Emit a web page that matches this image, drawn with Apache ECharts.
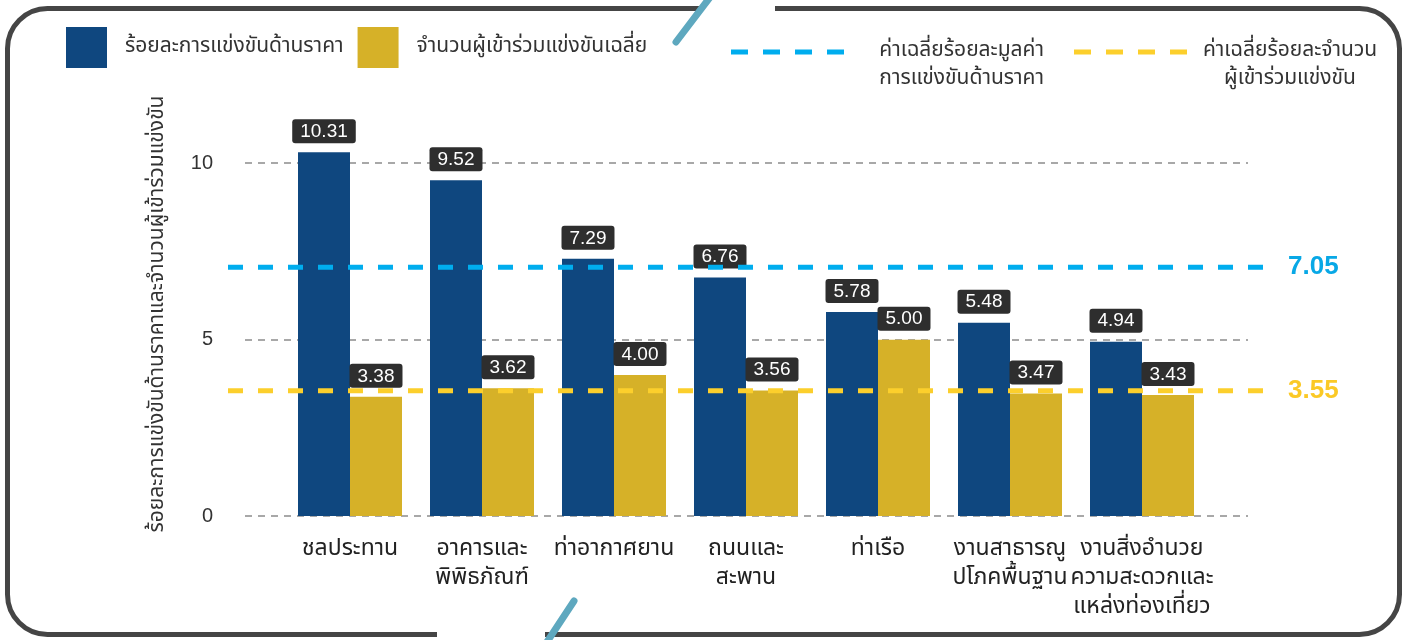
<!DOCTYPE html>
<html>
<head>
<meta charset="utf-8">
<script src="https://cdn.jsdelivr.net/npm/echarts@6/dist/echarts.min.js"></script>
<style>
  html, body { margin: 0; padding: 0; background: #fff; }
  #main { width: 1409px; height: 640px; }
</style>
</head>
<body>
<div id="main"></div>
<script>
// ข้อมูล
var categories = [
  'ชลประทาน',
  'อาคารและ\nพิพิธภัณฑ์',
  'ท่าอากาศยาน',
  'ถนนและ\nสะพาน',
  'ท่าเรือ',
  'งานสาธารณู\nปโภคพื้นฐาน',
  'งานสิ่งอำนวย\nความสะดวกและ\nแหล่งท่องเที่ยว'
];
var priceCompetition = [10.31, 9.52, 7.29, 6.76, 5.78, 5.48, 4.94];
var avgBidders = [3.38, 3.62, 4.00, 3.56, 5.00, 3.47, 3.43];
var priceCompetitionMean = 7.05;
var biddersMean = 3.55;
var yTickInterval = 5;
var yTickMax = 10;

var names = [
  'ร้อยละการแข่งขันด้านราคา',
  'จำนวนผู้เข้าร่วมแข่งขันเฉลี่ย',
  'ค่าเฉลี่ยร้อยละมูลค่า\nการแข่งขันด้านราคา',
  'ค่าเฉลี่ยร้อยละจำนวน\nผู้เข้าร่วมแข่งขัน'
];

var thaiFont = "'Noto Sans Thai', 'Noto Sans', sans-serif";
var numFont = "'Liberation Sans', Arial, sans-serif";
var dashIcon = 'path://M0,0h17v5h-17z M32,0h17v5h-17z M64,0h17v5h-17z M96,0h17v5h-17z';

var chart = echarts.init(document.getElementById('main'));

var barLabel = {
  show: true,
  position: 'top',
  distance: 9,
  color: '#fff',
  backgroundColor: '#2e2e2e',
  borderRadius: 3,
  padding: [3, 8, 2, 8],
  fontFamily: numFont,
  fontSize: 19,
  formatter: function (p) { return p.value.toFixed(2); }
};

// ข้อความคำอธิบายเส้นเฉลี่ย: บรรทัดแรกอยู่ระดับเดียวกับเส้นประ
function meanLegendText(name) {
  return '\n' + name.split('\n').map(function (s) { return '{t|' + s + '}'; }).join('\n');
}
function meanLegendStyle(boxWidth, align, padLeft) {
  return {
    fontFamily: thaiFont, fontSize: 21, color: '#333', lineHeight: 28,
    padding: [0, 0, 0, padLeft],
    rich: { t: { width: boxWidth, align: align, fontFamily: thaiFont, fontSize: 21, color: '#333', lineHeight: 28 } }
  };
}

chart.setOption({
  animation: false,
  legend: [
    {
      data: [names[0], names[1]],
      left: 66, top: 27, padding: 0,
      icon: 'rect',
      itemWidth: 41, itemHeight: 41,
      itemGap: 14,
      textStyle: { fontFamily: thaiFont, fontSize: 21, color: '#333', padding: [0, 0, 0, 13] }
    },
    {
      data: [names[2]],
      left: 731, top: 10, padding: 0,
      icon: dashIcon,
      itemWidth: 113, itemHeight: 5,
      formatter: meanLegendText,
      textStyle: meanLegendStyle(170, 'right', 25)
    },
    {
      data: [names[3]],
      left: 1074, top: 10, padding: 0,
      icon: dashIcon,
      itemWidth: 113, itemHeight: 5,
      formatter: meanLegendText,
      textStyle: meanLegendStyle(176, 'center', 10)
    }
  ],
  grid: [
    { left: 284, right: 201, top: 128, bottom: 124 },
    { left: 245, right: 161, top: 163, bottom: 124 },
    { left: 228, right: 141, top: 128, bottom: 124 }
  ],
  xAxis: [
    {
      type: 'category', gridIndex: 0, data: categories,
      axisLine: { show: false }, axisTick: { show: false },
      axisLabel: { interval: 0, margin: 20, fontFamily: thaiFont, fontSize: 23, lineHeight: 29, color: '#222' }
    },
    { type: 'value', gridIndex: 1, show: false },
    { type: 'category', gridIndex: 2, show: false, boundaryGap: false, data: ['', ''] }
  ],
  yAxis: [
    {
      type: 'value', gridIndex: 0, min: 0, max: 11,
      axisLine: { show: false }, axisTick: { show: false },
      axisLabel: { show: false }, splitLine: { show: false },
      name: 'ร้อยละการแข่งขันด้านราคาและจำนวนผู้เข้าร่วมแข่งขัน',
      nameLocation: 'middle', nameGap: 115,
      nameTextStyle: { fontFamily: thaiFont, fontSize: 21, color: '#333', padding: [0, 0, 0, 16] }
    },
    {
      type: 'value', gridIndex: 1, min: 0, max: yTickMax, interval: yTickInterval,
      axisLine: { show: false }, axisTick: { show: false },
      axisLabel: { margin: 32, fontFamily: numFont, fontSize: 20, color: '#333' },
      splitLine: { lineStyle: { color: '#a8a8a8', width: 2, type: [7, 6] } }
    },
    { type: 'value', gridIndex: 2, min: 0, max: 11, show: false }
  ],
  series: [
    {
      name: names[0], type: 'bar', xAxisIndex: 0, yAxisIndex: 0,
      data: priceCompetition, barWidth: 52, barGap: '0%',
      itemStyle: { color: '#0f477f' },
      label: barLabel, z: 2
    },
    {
      name: names[1], type: 'bar', xAxisIndex: 0, yAxisIndex: 0,
      data: avgBidders, barWidth: 52, barGap: '0%',
      itemStyle: { color: '#d6b128' },
      label: barLabel, z: 2
    },
    {
      name: names[2], type: 'line', xAxisIndex: 2, yAxisIndex: 2,
      data: [priceCompetitionMean, priceCompetitionMean],
      symbol: 'none', z: 3,
      itemStyle: { color: '#00adee' },
      lineStyle: { color: '#00adee', width: 5, type: [15, 15] },
      endLabel: {
        show: true, distance: 20, color: '#08a8e6',
        fontFamily: numFont, fontSize: 26, fontWeight: 'bold',
        formatter: function (p) { return p.value.toFixed(2); }
      }
    },
    {
      name: names[3], type: 'line', xAxisIndex: 2, yAxisIndex: 2,
      data: [biddersMean, biddersMean],
      symbol: 'none', z: 3,
      itemStyle: { color: '#fccf2c' },
      lineStyle: { color: '#fccf2c', width: 5, type: [15, 15] },
      endLabel: {
        show: true, distance: 20, color: '#fbc926',
        fontFamily: numFont, fontSize: 26, fontWeight: 'bold',
        formatter: function (p) { return p.value.toFixed(2); }
      }
    }
  ],
  graphic: [
    {
      type: 'rect', silent: true,
      shape: { x: 7.5, y: 8.5, width: 1392, height: 626, r: 40 },
      style: { fill: 'none', stroke: '#454545', lineWidth: 5 }
    },
    { type: 'rect', silent: true, shape: { x: 703, y: 0, width: 72, height: 16 }, style: { fill: '#fff' } },
    { type: 'rect', silent: true, shape: { x: 437, y: 624, width: 108, height: 16 }, style: { fill: '#fff' } },
    {
      type: 'line', silent: true,
      shape: { x1: 676, y1: 42, x2: 714, y2: -8 },
      style: { stroke: '#5ea8bf', lineWidth: 7, lineCap: 'round' }
    },
    {
      type: 'line', silent: true,
      shape: { x1: 574, y1: 601, x2: 543, y2: 648 },
      style: { stroke: '#5ea8bf', lineWidth: 7, lineCap: 'round' }
    }
  ]
});
</script>
</body>
</html>
